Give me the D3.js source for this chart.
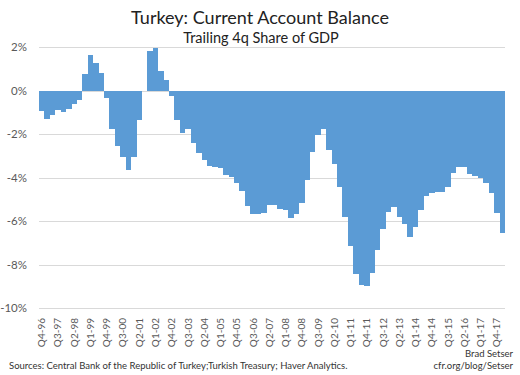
<!DOCTYPE html>
<html>
<head>
<meta charset="utf-8">
<script src="https://cdn.jsdelivr.net/npm/d3@7/dist/d3.min.js"></script>
<style>
  body { margin: 0; background: #fff; }
  svg { display: block; font-family: "Lato", "Open Sans", sans-serif; }
</style>
</head>
<body>
<svg id="chart" width="520" height="375"></svg>
<script>
// Turkey current account, trailing 4q % of GDP
const quarters = [
  "Q4-96",
  "Q1-97", "Q2-97", "Q3-97", "Q4-97",
  "Q1-98", "Q2-98", "Q3-98", "Q4-98",
  "Q1-99", "Q2-99", "Q3-99", "Q4-99",
  "Q1-00", "Q2-00", "Q3-00", "Q4-00",
  "Q1-01", "Q2-01", "Q3-01", "Q4-01",
  "Q1-02", "Q2-02", "Q3-02", "Q4-02",
  "Q1-03", "Q2-03", "Q3-03", "Q4-03",
  "Q1-04", "Q2-04", "Q3-04", "Q4-04",
  "Q1-05", "Q2-05", "Q3-05", "Q4-05",
  "Q1-06", "Q2-06", "Q3-06", "Q4-06",
  "Q1-07", "Q2-07", "Q3-07", "Q4-07",
  "Q1-08", "Q2-08", "Q3-08", "Q4-08",
  "Q1-09", "Q2-09", "Q3-09", "Q4-09",
  "Q1-10", "Q2-10", "Q3-10", "Q4-10",
  "Q1-11", "Q2-11", "Q3-11", "Q4-11",
  "Q1-12", "Q2-12", "Q3-12", "Q4-12",
  "Q1-13", "Q2-13", "Q3-13", "Q4-13",
  "Q1-14", "Q2-14", "Q3-14", "Q4-14",
  "Q1-15", "Q2-15", "Q3-15", "Q4-15",
  "Q1-16", "Q2-16", "Q3-16", "Q4-16",
  "Q1-17", "Q2-17", "Q3-17", "Q4-17",
  "Q1-18"
];

const balance = [
  -0.95,
  -1.29, -1.11, -0.91, -0.97,
  -0.83, -0.60, -0.42, 0.74,
  1.63, 1.28, 0.82, -0.34,
  -1.77, -2.54, -3.06, -3.65,
  -3.06, -1.37, 0.0, 1.82,
  1.95, 0.88, 0.46, -0.26,
  -1.34, -1.95, -1.77, -2.40,
  -2.88, -3.18, -3.45, -3.52,
  -3.55, -3.88, -3.98, -4.23,
  -4.62, -5.29, -5.70, -5.70,
  -5.65, -5.28, -5.28, -5.46,
  -5.49, -5.85, -5.70, -5.15,
  -4.10, -2.85, -2.06, -1.77,
  -2.75, -3.40, -4.42, -5.83,
  -7.15, -8.42, -8.96, -9.00,
  -8.40, -7.34, -6.39, -5.57,
  -5.34, -5.83, -6.15, -6.73,
  -6.27, -5.50, -4.85, -4.70,
  -4.67, -4.67, -4.45, -3.80,
  -3.53, -3.53, -3.84, -3.92,
  -4.00, -4.23, -4.73, -5.62,
  -6.57
];

const yTicks = [2, 0, -2, -4, -6, -8, -10];
// every third quarter is labelled
const xTickLabels = [
  "Q4-96", "Q3-97", "Q2-98", "Q1-99", "Q4-99", "Q3-00", "Q2-01", "Q1-02",
  "Q4-02", "Q3-03", "Q2-04", "Q1-05", "Q4-05", "Q3-06", "Q2-07", "Q1-08",
  "Q4-08", "Q3-09", "Q2-10", "Q1-11", "Q4-11", "Q3-12", "Q2-13", "Q1-14",
  "Q4-14", "Q3-15", "Q2-16", "Q1-17", "Q4-17"
];

const svg = d3.select("#chart");
const margin = { left: 39, right: 15, top: 47, bottom: 67 };
const W = 520, H = 375;

const x = d3.scaleBand()
  .domain(quarters)
  .range([margin.left, W - margin.right])
  .padding(0);

const y = d3.scaleLinear()
  .domain([-10, 2])
  .range([H - margin.bottom, margin.top]);

// gridlines
svg.append("g")
  .selectAll("line")
  .data(yTicks)
  .join("line")
  .attr("x1", margin.left)
  .attr("x2", W - margin.right)
  .attr("y1", d => Math.round(y(d)) + 0.5)
  .attr("y2", d => Math.round(y(d)) + 0.5)
  .attr("stroke", "#d9d9d9")
  .attr("stroke-width", 1);

// bars, snapped to whole pixels so neighbours touch without seams
const left = i => Math.round(x(quarters[i]));
const right = i => Math.round(x(quarters[i]) + x.bandwidth());

svg.append("g")
  .attr("shape-rendering", "crispEdges")
  .selectAll("rect")
  .data(balance)
  .join("rect")
  .attr("x", (d, i) => left(i))
  .attr("width", (d, i) => right(i) - left(i))
  .attr("y", d => Math.round(y(Math.max(0, d))))
  .attr("height", d => Math.abs(Math.round(y(d)) - Math.round(y(0))))
  .attr("fill", "#5b9bd5");

// y axis labels
const yAxis = d3.axisLeft(y)
  .tickValues(yTicks)
  .tickSize(0)
  .tickPadding(0)
  .tickFormat(d => d + "%");

svg.append("g")
  .attr("transform", `translate(27,0)`)
  .call(yAxis)
  .call(g => g.select(".domain").remove())
  .selectAll("text")
  .attr("fill", "#595959")
  .style("font-size", "11.5px")
  .style("font-family", "Lato, sans-serif");

// x axis labels, rotated
const xAxis = d3.axisBottom(x)
  .tickValues(xTickLabels)
  .tickSize(0)
  .tickPadding(0);

svg.append("g")
  .attr("transform", `translate(0,${H - margin.bottom})`)
  .call(xAxis)
  .call(g => g.select(".domain").remove())
  .selectAll("text")
  .attr("fill", "#595959")
  .style("font-size", "10px")
  .style("font-family", "Lato, sans-serif")
  .attr("text-anchor", "end")
  .attr("dy", "0.35em")
  .attr("transform", "translate(0,10) rotate(-90)")
  .attr("x", 0)
  .attr("y", 0);

// titles
svg.append("text")
  .attr("x", 260)
  .attr("y", 24)
  .attr("text-anchor", "middle")
  .attr("fill", "#222")
  .style("font-size", "18px")
  .text("Turkey: Current Account Balance");

svg.append("text")
  .attr("x", 261)
  .attr("y", 43)
  .attr("text-anchor", "middle")
  .attr("fill", "#222")
  .style("font-size", "14.5px")
  .text("Trailing 4q Share of GDP");

// footer
svg.append("text")
  .attr("x", 9)
  .attr("y", 369)
  .attr("fill", "#333")
  .style("font-size", "9.5px")
  .text("Sources: Central Bank of the Republic of Turkey;Turkish Treasury; Haver Analytics.");

svg.append("text")
  .attr("x", 513)
  .attr("y", 357)
  .attr("text-anchor", "end")
  .attr("fill", "#333")
  .style("font-size", "9.5px")
  .text("Brad Setser");

svg.append("text")
  .attr("x", 513)
  .attr("y", 369)
  .attr("text-anchor", "end")
  .attr("fill", "#333")
  .style("font-size", "9.5px")
  .text("cfr.org/blog/Setser");
</script>
</body>
</html>
